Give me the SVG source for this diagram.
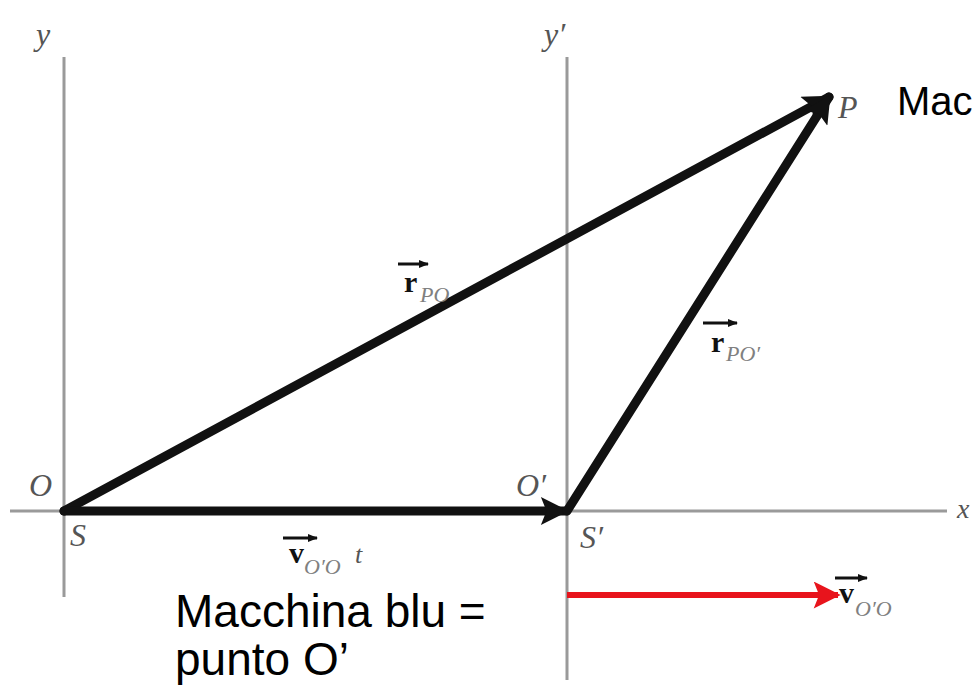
<svg xmlns="http://www.w3.org/2000/svg" width="976" height="685" viewBox="0 0 976 685">
<defs>
<style>
.axis{stroke:#9a9a9a;stroke-width:3;fill:none}
.vec{stroke:#111;stroke-width:9;fill:none;stroke-linecap:round}
.lab{font-family:"Liberation Serif",serif;font-style:italic;fill:#555;font-size:32px}
.sub{font-family:"Liberation Serif",serif;font-style:italic;fill:#808080;font-size:22px}
.bold{font-family:"Liberation Serif",serif;font-weight:bold;fill:#111;font-size:30px}
.txt{font-family:"Liberation Sans",Arial,sans-serif;fill:#000;font-size:46px}
</style>
<marker id="ah" viewBox="0 0 10 10" refX="9" refY="5" markerWidth="4.2" markerHeight="3.1" markerUnits="strokeWidth" orient="auto">
<path d="M0,0 L10,5 L0,10 L2,5 Z" fill="#111"/>
</marker>
<marker id="ahr" viewBox="0 0 10 10" refX="9" refY="5" markerWidth="7" markerHeight="4.5" markerUnits="strokeWidth" orient="auto">
<path d="M0,0 L10,5 L0,10 L2,5 Z" fill="#e8141c"/>
</marker>
<marker id="sm" viewBox="0 0 10 10" refX="9" refY="5" markerWidth="3.5" markerHeight="3.5" markerUnits="strokeWidth" orient="auto">
<path d="M0,1 L10,5 L0,9 Z" fill="#111"/>
</marker>
</defs>
<rect width="976" height="685" fill="#fff"/>
<g id="axes">
<line class="axis" x1="64" y1="57" x2="64" y2="597"/>
<line class="axis" x1="567" y1="57" x2="567" y2="680"/>
<line class="axis" x1="10" y1="511" x2="947" y2="511"/>
<text class="lab" x="36" y="45">y</text>
<text class="lab" x="544" y="45">y′</text>
<text class="lab" x="957" y="518" style="font-size:28px">x</text>
<text class="lab" x="29" y="496">O</text>
<text class="lab" x="70" y="546">S</text>
<text class="lab" x="516" y="496">O′</text>
<text class="lab" x="580" y="548">S′</text>
<text class="lab" x="838" y="118">P</text>
</g>
<g id="connectors">
<line class="vec" x1="64" y1="511" x2="829" y2="97" marker-end="url(#ah)"/>
<line class="vec" x1="64" y1="511" x2="566" y2="511" marker-end="url(#ah)"/>
<line class="vec" x1="567" y1="511" x2="829" y2="97" marker-end="url(#ah)"/>
<line x1="567" y1="595" x2="838" y2="595" stroke="#e8141c" stroke-width="6" marker-end="url(#ahr)"/>
</g>
<g id="label-rPO">
<line x1="398" y1="264" x2="428" y2="264" stroke="#111" stroke-width="3" marker-end="url(#sm)"/>
<text class="bold" x="404" y="292">r</text>
<text class="sub" x="420" y="302">PO</text>
</g>
<g id="label-rPO2">
<line x1="703" y1="323" x2="737" y2="323" stroke="#111" stroke-width="3" marker-end="url(#sm)"/>
<text class="bold" x="711" y="352">r</text>
<text class="sub" x="726" y="361">PO′</text>
</g>
<g id="label-vt">
<line x1="283" y1="538" x2="317" y2="538" stroke="#111" stroke-width="3" marker-end="url(#sm)"/>
<text class="bold" x="289" y="563">v</text>
<text class="sub" x="304" y="574">O′O</text>
<text class="lab" x="355" y="563" style="font-size:26px">t</text>
</g>
<g id="label-v">
<line x1="835" y1="578" x2="867" y2="578" stroke="#111" stroke-width="3" marker-end="url(#sm)"/>
<text class="bold" x="839" y="603">v</text>
<text class="sub" x="855" y="616">O′O</text>
</g>
<g id="text-macchina">
<text class="txt" x="175" y="627">Macchina blu =</text>
<text class="txt" x="175" y="675">punto O’</text>
</g>
<g id="text-mac">
<text class="txt" x="897" y="115" style="font-size:40px">Mac</text>
</g>
</svg>
